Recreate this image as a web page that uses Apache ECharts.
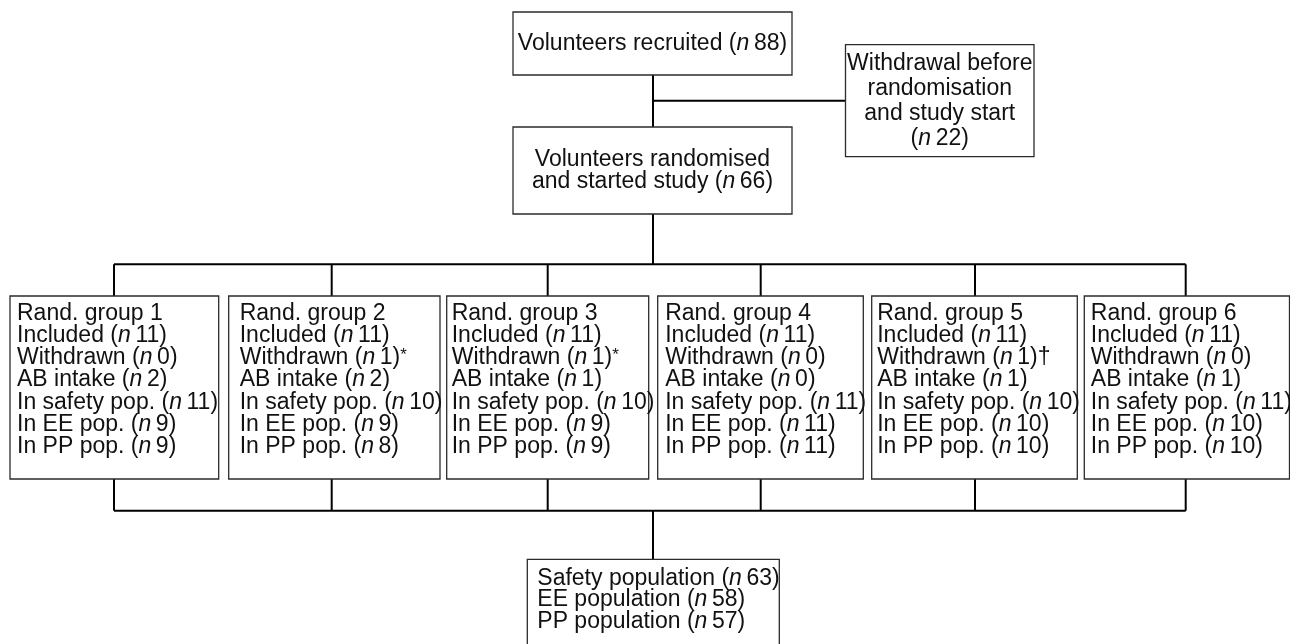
<!DOCTYPE html>
<html>
<head>
<meta charset="utf-8">
<title>Trial flow</title>
<script src="https://cdn.jsdelivr.net/npm/echarts@6/dist/echarts.min.js"></script>
<style>
  html, body { margin: 0; padding: 0; background: #fff; }
  #chart { width: 1290px; height: 644px; }
</style>
</head>
<body>
<div id="chart"></div>
<script>
// counts shown in the flow diagram
const recruited = 88
const withdrawnBefore = 22
const randomised = 66

const groupNames = ['Rand. group 1', 'Rand. group 2', 'Rand. group 3', 'Rand. group 4', 'Rand. group 5', 'Rand. group 6']
const included = [11, 11, 11, 11, 11, 11]
const withdrawn = [0, 1, 1, 0, 1, 0]
const withdrawnNote = ['', '*', '*', '', '\u2020', '']
const abIntake = [2, 2, 1, 0, 1, 1]
const safetyPop = [11, 10, 10, 11, 10, 11]
const eePop = [9, 9, 9, 11, 10, 10]
const ppPop = [9, 8, 9, 11, 10, 10]

const totalSafety = 63
const totalEE = 58
const totalPP = 57

const FONT = '"Liberation Sans", Arial, Helvetica, sans-serif'
const FS = 23

// "(n 11)" with italic n
function nn(v) {
  return '({i|n}\u2009' + v + ')'
}
function note(m) {
  if (m === '*') return '{sup|*}'
  return m
}

// box layout (pixel space of the 1290x644 canvas)
const groupLeft = [10, 228.7, 446.7, 657.7, 871.7, 1084.3]
const groupRight = [218.7, 440, 648.7, 863.3, 1077.3, 1289.5]
const groupPadX = [7, 11, 5, 7.5, 5.5, 6.5]
const groupTop = 296
const groupBottom = 479
const groupLinkX = [114, 331.7, 547.7, 760.7, 975, 1185.7]

const boxes = [
  { x0: 513, y0: 12, x1: 792, y1: 75, center: true, lh: 22,
    text: 'Volunteers recruited ' + nn(recruited) },
  { x0: 845.5, y0: 44.7, x1: 1034, y1: 156.7, center: true, lh: 25,
    text: 'Withdrawal before\nrandomisation\nand study start\n' + nn(withdrawnBefore) },
  { x0: 513, y0: 127, x1: 792, y1: 214, center: true, lh: 21.7,
    text: 'Volunteers randomised\nand started study ' + nn(randomised) }
]
groupNames.forEach(function (g, i) {
  boxes.push({
    x0: groupLeft[i], y0: groupTop, x1: groupRight[i], y1: groupBottom,
    center: false, lh: 22.2, padX: groupPadX[i], padY: 6.3,
    text: [
      g,
      'Included ' + nn(included[i]),
      'Withdrawn ' + nn(withdrawn[i]) + note(withdrawnNote[i]),
      'AB intake ' + nn(abIntake[i]),
      'In safety pop. ' + nn(safetyPop[i]),
      'In EE pop. ' + nn(eePop[i]),
      'In PP pop. ' + nn(ppPop[i])
    ].join('\n')
  })
})
boxes.push({
  x0: 527.3, y0: 559.3, x1: 779.3, y1: 650, center: false, lh: 21.8, padX: 10, padY: 8,
  text: [
    'Safety population ' + nn(totalSafety),
    'EE population ' + nn(totalEE),
    'PP population ' + nn(totalPP)
  ].join('\n')
})

// connector segments [x0, y0, x1, y1]
const links = [
  [653, 75, 653, 127],
  [653, 100.7, 845.5, 100.7],
  [653, 214, 653, 264.3],
  [groupLinkX[0], 264.3, groupLinkX[5], 264.3],
  [groupLinkX[0], 510.7, groupLinkX[5], 510.7],
  [653, 510.7, 653, 559.3]
]
groupLinkX.forEach(function (x) {
  links.push([x, 264.3, x, groupTop])
  links.push([x, groupBottom, x, 510.7])
})

const chart = echarts.init(document.getElementById('chart'))

chart.setOption({
  animation: false,
  backgroundColor: '#fff',
  grid: { left: 0, right: 0, top: 0, bottom: 0 },
  xAxis: { type: 'value', min: 0, max: 1290, show: false },
  yAxis: { type: 'value', min: 0, max: 644, inverse: true, show: false },
  series: [
    {
      type: 'custom',
      name: 'links',
      clip: false,
      silent: true,
      encode: { x: [0, 2], y: [1, 3] },
      data: links,
      renderItem: function (params, api) {
        const a = api.coord([api.value(0), api.value(1)])
        const b = api.coord([api.value(2), api.value(3)])
        return {
          type: 'line',
          shape: { x1: a[0], y1: a[1], x2: b[0], y2: b[1] },
          style: { stroke: '#000', lineWidth: 2 }
        }
      }
    },
    {
      type: 'custom',
      name: 'boxes',
      clip: false,
      silent: true,
      z: 3,
      encode: { x: [0, 2], y: [1, 3] },
      data: boxes.map(function (b) { return [b.x0, b.y0, b.x1, b.y1] }),
      renderItem: function (params, api) {
        const b = boxes[params.dataIndex]
        const p0 = api.coord([api.value(0), api.value(1)])
        const p1 = api.coord([api.value(2), api.value(3)])
        const txt = {
          type: 'text',
          style: {
            text: b.text,
            fill: '#111',
            fontFamily: FONT,
            fontSize: FS,
            lineHeight: b.lh,
            rich: {
              i: { fontStyle: 'italic', fontFamily: FONT, fontSize: FS, lineHeight: b.lh },
              sup: { fontFamily: FONT, fontSize: 17, lineHeight: 17, verticalAlign: 'top' }
            }
          }
        }
        if (b.center) {
          txt.style.x = (p0[0] + p1[0]) / 2
          txt.style.y = (p0[1] + p1[1]) / 2
          txt.style.align = 'center'
          txt.style.verticalAlign = 'middle'
        } else {
          txt.style.x = p0[0] + b.padX
          txt.style.y = p0[1] + b.padY
          txt.style.align = 'left'
          txt.style.verticalAlign = 'top'
        }
        return {
          type: 'group',
          children: [
            {
              type: 'rect',
              shape: { x: p0[0], y: p0[1], width: p1[0] - p0[0], height: p1[1] - p0[1] },
              style: { fill: '#fff', stroke: '#2b2b2b', lineWidth: 1.3 }
            },
            txt
          ]
        }
      }
    }
  ]
})
</script>
</body>
</html>
